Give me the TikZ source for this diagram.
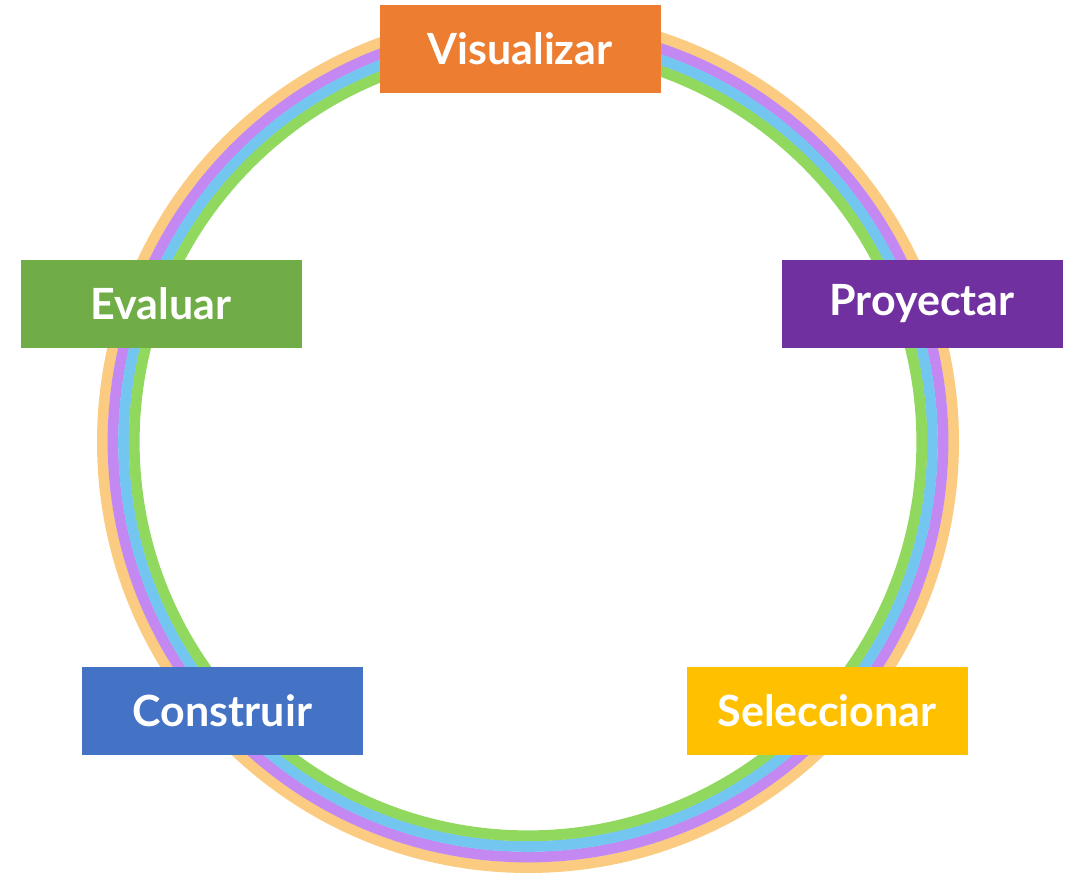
\documentclass[tikz,border=0pt]{standalone}
\usepackage{fontspec}
\setmainfont{Lato}
\definecolor{ringO}{HTML}{FACB80}
\definecolor{ringP}{HTML}{C488F2}
\definecolor{ringB}{HTML}{72C6F0}
\definecolor{ringG}{HTML}{90D85E}
\definecolor{cOrange}{HTML}{ED7D31}
\definecolor{cGreen}{HTML}{70AD47}
\definecolor{cPurple}{HTML}{7030A0}
\definecolor{cBlue}{HTML}{4472C4}
\definecolor{cGold}{HTML}{FFC000}
\tikzset{
  stage/.style={rectangle, minimum width=281pt, minimum height=88pt, inner sep=0pt,
    text=white, font=\fontsize{43}{43}\selectfont\bfseries},
}
\begin{document}
\begin{tikzpicture}[x=1pt,y=-1pt]
\useasboundingbox (0,0) rectangle (1074,876);
\coordinate (c) at (528,442);
\draw[ringO, line width=10.8pt] (c) circle[radius=425.6];
\draw[ringP, line width=10.8pt] (c) circle[radius=415];
\draw[ringB, line width=10.8pt] (c) circle[radius=404.4];
\draw[ringG, line width=10.8pt] (c) circle[radius=393.8];
\node[stage, fill=cOrange] (vis) at (520,49) {Visualizar};
\node[stage, fill=cPurple] (pro) at (922,303.5) {Proyectar};
\node[stage, fill=cGold] (sel) at (827,710.5) {Seleccionar};
\node[stage, fill=cBlue] (con) at (222.5,711) {Construir};
\node[stage, fill=cGreen] (eva) at (161,303.5) {Evaluar};
\end{tikzpicture}
\end{document}
